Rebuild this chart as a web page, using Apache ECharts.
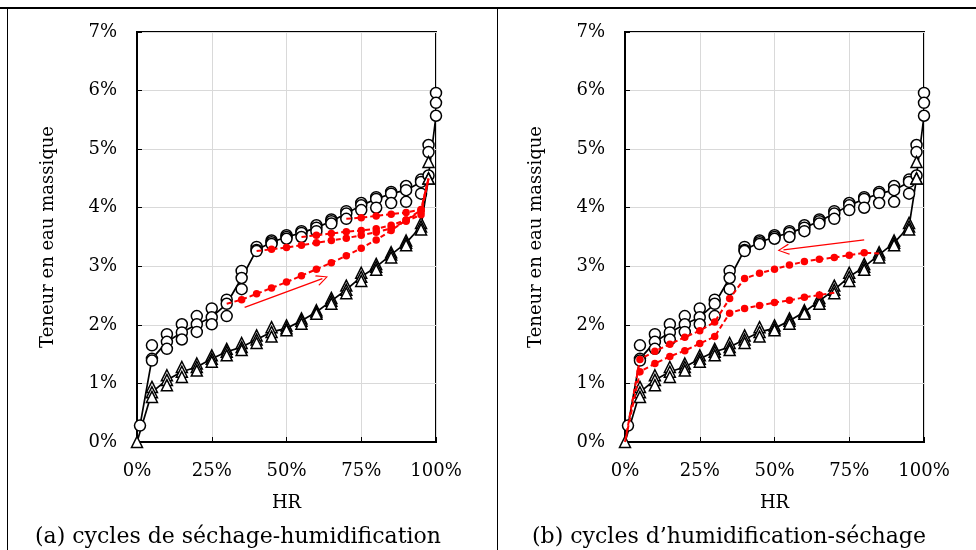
<!DOCTYPE html>
<html>
<head>
<meta charset="utf-8">
<script src="https://cdn.jsdelivr.net/npm/echarts@6/dist/echarts.min.js"></script>
<style>
html,body{margin:0;padding:0;background:#fff;}
#c{width:976px;height:550px;}
</style>
</head>
<body>
<div id="c"></div>
<script>
// ---- data ----
const HR = [0, 1, 5, 10, 15, 20, 25, 30, 35, 40, 45, 50, 55, 60, 65, 70, 75, 80, 85, 90, 95, 97.5, 100];
const yTicks = [0, 1, 2, 3, 4, 5, 6, 7];
const xTicks = [0, 25, 50, 75, 100];

// desorption (open circles), three samples
const circ1 = [null, null, 1.65, 1.84, 2.01, 2.15, 2.28, 2.43, 2.92, 3.33, 3.44, 3.53, 3.60, 3.70, 3.80, 3.94, 4.08, 4.18, 4.27, 4.37, 4.48, 5.07, 5.96];
const circ2 = [null, 0.28, 1.42, 1.71, 1.87, 2.01, 2.13, 2.36, 2.80, 3.28, 3.41, 3.50, 3.57, 3.66, 3.77, 3.90, 4.04, 4.15, 4.24, 4.30, 4.44, 4.55, 5.57];
const circ3 = [null, null, 1.39, 1.59, 1.75, 1.88, 2.01, 2.15, 2.61, 3.26, 3.38, 3.47, 3.50, 3.60, 3.73, 3.81, 3.96, 4.00, 4.08, 4.10, 4.24, 4.95, 5.79];
// adsorption (open triangles), three samples
const tri1 = [null, null, 0.94, 1.14, 1.28, 1.34, 1.48, 1.59, 1.69, 1.82, 1.96, 1.99, 2.11, 2.25, 2.46, 2.67, 2.89, 3.04, 3.24, 3.44, 3.74, 4.78, null];
const tri2 = [0, null, 0.85, 1.06, 1.20, 1.28, 1.42, 1.54, 1.62, 1.75, 1.88, 1.94, 2.07, 2.22, 2.41, 2.60, 2.82, 2.99, 3.20, 3.40, 3.68, 4.50, null];
const tri3 = [null, null, 0.77, 0.97, 1.11, 1.22, 1.37, 1.48, 1.57, 1.69, 1.80, 1.91, 2.02, 2.19, 2.36, 2.54, 2.75, 2.94, 3.15, 3.36, 3.63, 4.50, null];

// (a) scanning curves: drying to HR then wetting
const scanA1x = [30, 35, 40, 45, 50, 55, 60, 65, 70, 75, 80, 85, 90, 95, 97.5];
const scanA1y = [2.36, 2.43, 2.53, 2.63, 2.73, 2.84, 2.95, 3.06, 3.18, 3.31, 3.45, 3.61, 3.79, 3.96, 4.50];
const scanA2x = [40, 45, 50, 55, 60, 65, 70, 75, 80, 85, 90, 95, 97.5];
const scanA2y = [3.26, 3.29, 3.32, 3.36, 3.40, 3.44, 3.48, 3.53, 3.58, 3.65, 3.77, 3.88, 4.50];
const scanA3x = [55, 60, 65, 70, 75, 80, 85, 90, 95, 97.5];
const scanA3y = [3.50, 3.53, 3.56, 3.59, 3.61, 3.64, 3.70, 3.79, 3.93, 4.50];
const scanA4x = [70, 75, 80, 85, 90, 95, 97.5];
const scanA4y = [3.81, 3.83, 3.86, 3.89, 3.92, 3.97, 4.50];

// (b) scanning curves: wetting to HR then drying
const scanB1x = [85, 80, 75, 70, 65, 60, 55, 50, 45, 40, 35, 30, 25, 20, 15, 10, 5, 0];
const scanB1y = [3.22, 3.23, 3.19, 3.15, 3.12, 3.08, 3.02, 2.95, 2.88, 2.79, 2.45, 2.05, 1.90, 1.79, 1.67, 1.55, 1.41, 0];
const scanB2x = [70, 65, 60, 55, 50, 45, 40, 35, 30, 25, 20, 15, 10, 5, 0];
const scanB2y = [2.55, 2.51, 2.47, 2.42, 2.38, 2.33, 2.28, 2.20, 1.80, 1.68, 1.56, 1.46, 1.34, 1.20, 0];

// arrows [x0,y0,x1,y1] in data units
const arrowA = [36, 2.30, 62, 2.79];
const arrowB = [80, 3.45, 53, 3.28];

const captions = ['(a) cycles de séchage-humidification', '(b) cycles d\u2019humidification-séchage'];
const xName = 'HR';
const yName = 'Teneur en eau massique';

// ---- build ----
const FONT = 'DejaVu Serif';
const pairs = (xs, ys) => xs.map((x, i) => [x, ys[i]]);
const red = '#ff0000';
const chevron = 'path://M50,0 L100,88 L91,95 L50,18 L9,95 L0,88 Z';

function blackSeries(g) {
  const out = [];
  const mkStyle = { color: '#fff', borderColor: '#000', borderWidth: 1.5 };
  [circ1, circ2, circ3].forEach((arr, k) => {
    out.push({
      type: 'line', xAxisIndex: g, yAxisIndex: g,
      data: pairs(HR, arr).filter(p => p[1] !== null),
      symbol: 'circle', symbolSize: 11, showAllSymbol: true,
      itemStyle: mkStyle,
      lineStyle: { color: '#000', width: k === 1 ? 1.7 : 0, opacity: k === 1 ? 1 : 0 },
      z: 3
    });
  });
  [tri1, tri2, tri3].forEach((arr, k) => {
    out.push({
      type: 'line', xAxisIndex: g, yAxisIndex: g,
      data: pairs(HR, arr).filter(p => p[1] !== null),
      symbol: 'triangle', symbolSize: 11, showAllSymbol: true,
      itemStyle: mkStyle,
      lineStyle: { color: '#000', width: k === 1 ? 1.7 : 0, opacity: k === 1 ? 1 : 0 },
      z: 3
    });
  });
  return out;
}

function redSeries(g, xs, ys) {
  const d = pairs(xs, ys).map((p, i) => {
    if (i === 0 || (i === xs.length - 1 && xs[i] > 96)) return { value: p, symbol: 'none' };
    if (ys[i] === 0) return { value: p, symbol: 'none' };
    return { value: p };
  });
  return {
    type: 'line', xAxisIndex: g, yAxisIndex: g, data: d,
    symbol: 'circle', symbolSize: 7.5, showAllSymbol: true,
    itemStyle: { color: red },
    lineStyle: { color: red, width: 2, type: [5, 3] },
    z: 4
  };
}

function arrowSeries(g, a) {
  return {
    type: 'line', xAxisIndex: g, yAxisIndex: g, data: [], z: 5,
    markLine: {
      silent: true, animation: false,
      symbol: ['none', chevron], symbolSize: [11, 12],
      lineStyle: { color: red, width: 1.4, type: 'solid' },
      label: { show: false },
      data: [[{ coord: [a[0], a[1]] }, { coord: [a[2], a[3]] }]]
    }
  };
}

const chart = echarts.init(document.getElementById('c'), null, { renderer: 'canvas' });

const axisLabelStyle = { fontFamily: FONT, fontSize: 18, color: '#000' };
function xAxis(g) {
  return {
    gridIndex: g, type: 'value', min: 0, max: 100, interval: 25,
    axisLine: { show: true, lineStyle: { color: '#000', width: 2 } },
    axisTick: { show: true, inside: true, length: 5, lineStyle: { color: '#000', width: 1 } },
    axisLabel: Object.assign({ formatter: v => xTicks.includes(v) ? v + '%' : '', margin: 20 }, axisLabelStyle),
    splitLine: { show: true, lineStyle: { color: '#d9d9d9', width: 1 } },
    name: xName, nameLocation: 'middle', nameGap: 52,
    nameTextStyle: { fontFamily: FONT, fontSize: 18, color: '#000' }
  };
}
function yAxis(g) {
  return {
    gridIndex: g, type: 'value', min: 0, max: 7, interval: 1,
    axisLine: { show: true, lineStyle: { color: '#000', width: 2 } },
    axisTick: { show: true, inside: true, length: 5, lineStyle: { color: '#000', width: 1 } },
    axisLabel: Object.assign({ formatter: v => yTicks.includes(v) ? v + '%' : '', margin: 20 }, axisLabelStyle),
    splitLine: { show: true, lineStyle: { color: '#d9d9d9', width: 1 } },
    name: yName, nameLocation: 'middle', nameGap: 80,
    nameTextStyle: { fontFamily: FONT, fontSize: 18, color: '#000' }
  };
}

const option = {
  animation: false,
  backgroundColor: '#fff',
  grid: [
    { left: 137, right: 976 - 436, top: 32, bottom: 550 - 442, show: true, borderColor: '#000', borderWidth: 2, backgroundColor: 'transparent' },
    { left: 625, right: 976 - 924, top: 32, bottom: 550 - 442, show: true, borderColor: '#000', borderWidth: 2, backgroundColor: 'transparent' }
  ],
  xAxis: [xAxis(0), xAxis(1)],
  yAxis: [yAxis(0), yAxis(1)],
  series: [].concat(
    blackSeries(0),
    blackSeries(1),
    [
      redSeries(0, scanA1x, scanA1y),
      redSeries(0, scanA2x, scanA2y),
      redSeries(0, scanA3x, scanA3y),
      redSeries(0, scanA4x, scanA4y),
      redSeries(1, scanB1x, scanB1y),
      redSeries(1, scanB2x, scanB2y),
      arrowSeries(0, arrowA),
      arrowSeries(1, arrowB)
    ]
  ),
  graphic: [
    { type: 'line', shape: { x1: 0, y1: 8, x2: 976, y2: 8 }, style: { stroke: '#000', lineWidth: 2 } },
    { type: 'line', shape: { x1: 7.5, y1: 8, x2: 7.5, y2: 550 }, style: { stroke: '#000', lineWidth: 1 } },
    { type: 'line', shape: { x1: 497.5, y1: 8, x2: 497.5, y2: 550 }, style: { stroke: '#000', lineWidth: 1 } },
    { type: 'text', x: 238, y: 537, style: { text: captions[0], font: '22px "DejaVu Serif"', fill: '#000', textAlign: 'center', textVerticalAlign: 'middle' } },
    { type: 'text', x: 729, y: 537, style: { text: captions[1], font: '22px "DejaVu Serif"', fill: '#000', textAlign: 'center', textVerticalAlign: 'middle' } }
  ]
};
chart.setOption(option);
</script>
</body>
</html>
